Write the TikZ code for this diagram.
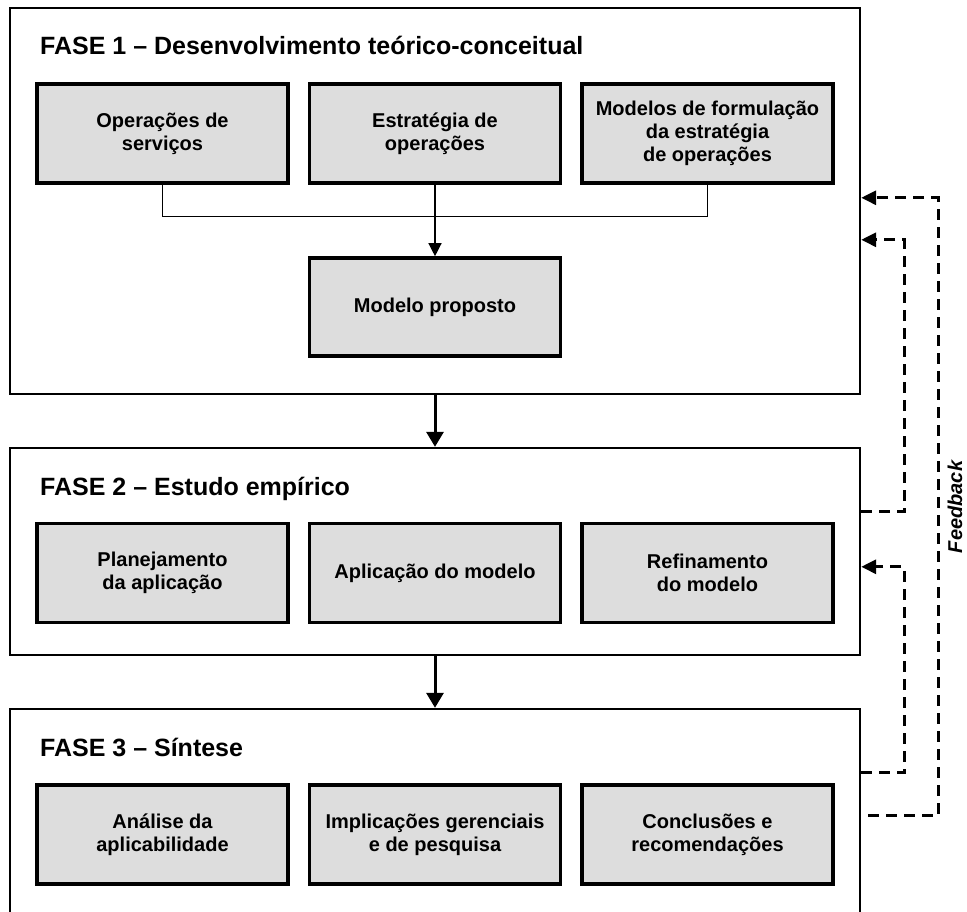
\documentclass[tikz,border=0pt]{standalone}
\usepackage{fontspec}
\setmainfont{Liberation Sans}
\usetikzlibrary{arrows.meta,positioning}

\definecolor{boxgray}{HTML}{DDDDDD}

\tikzset{
  phasebox/.style={draw=black, line width=2.4pt, fill=white, inner sep=0pt},
  stepbox/.style={draw=black, line width=3.6pt, fill=boxgray, inner sep=0pt,
    minimum width=251pt, minimum height=99pt, align=center,
    font=\bfseries\fontsize{20}{23}\selectfont},
  phasetitle/.style={anchor=base west, inner sep=0pt,
    font=\bfseries\fontsize{25}{30}\selectfont},
  joinline/.style={line width=1.3pt},
  joinarrow/.style={line width=1.3pt, -{Triangle[length=13pt,width=13pt]}},
  phasearrow/.style={line width=3pt, -{Triangle[length=15pt,width=17pt]}},
  fbline/.style={line width=3pt, dash pattern=on 11pt off 7pt,
    -{Triangle[length=15pt,width=14pt]}},
}

\begin{document}
\begin{tikzpicture}[x=1pt, y=-1pt]
  \clip (0,0) rectangle (967,912);
  \fill[white] (0,0) rectangle (967,912);

  % three phase frames (the last one runs past the lower edge)
  \node[phasebox, minimum width=850pt, minimum height=386pt] (ph1) at (435,201) {};
  \node[phasebox, minimum width=850pt, minimum height=207pt] (ph2) at (435,551.5) {};
  \node[phasebox, minimum width=850pt, minimum height=230pt] (ph3) at (435,824) {};

  % phase titles
  \node[phasetitle] (t1) at (40,55) {FASE 1 -- Desenvolvimento teórico-conceitual};
  \node[phasetitle] (t2) at (40,495) {FASE 2 -- Estudo empírico};
  \node[phasetitle] (t3) at (40,756) {FASE 3 -- Síntese};

  % phase 1 steps
  \node[stepbox] (a1) at (162.5,133.5) {Operações de\\serviços};
  \node[stepbox] (a2) at (435,133.5) {Estratégia de\\operações};
  \node[stepbox] (a3) at (707.5,133.5) {Modelos de formulação\\da estratégia\\de operações};
  \node[stepbox, minimum height=98pt] (mp) at (435,307) {Modelo proposto};

  % phase 2 steps
  \node[stepbox] (b1) at (162.5,573) {Planejamento\\da aplicação};
  \node[stepbox] (b2) at (435,573) {Aplicação do modelo};
  \node[stepbox] (b3) at (707.5,573) {Refinamento\\do modelo};

  % phase 3 steps
  \node[stepbox] (c1) at (162.5,834.5) {Análise da\\aplicabilidade};
  \node[stepbox] (c2) at (435,834.5) {Implicações gerenciais\\e de pesquisa};
  \node[stepbox] (c3) at (707.5,834.5) {Conclusões e\\recomendações};

  % joining the three bases into the proposed model
  \draw[joinline] (a1.south) -- ++(0,32) -| (a3.south);
  \draw[joinarrow] (a2.south) -- (mp.north);

  % flow between phases
  \draw[phasearrow] (ph1.south) -- (ph2.north);
  \draw[phasearrow] (ph2.south) -- (ph3.north);

  % feedback loops
  \path (ph3.north east) ++(0,108) coordinate (fo1);
  \path (ph1.north east) ++(0,191) coordinate (fo2);
  \path (ph3.north east) ++(0,65)  coordinate (fm1);
  \path (ph2.north east) ++(0,120) coordinate (fm2);
  \path (ph2.north east) ++(0,65)  coordinate (fi1);
  \path (ph1.north east) ++(0,233) coordinate (fi2);

  \draw[fbline, dash phase=11pt] (fo1) -- ++(77,0) |- (fo2);
  \draw[fbline] (fm1) -- ++(43,0) |- (fm2);
  \draw[fbline] (fi1) -- ++(43,0) |- (fi2);

  \node[rotate=90, anchor=base, inner sep=0pt,
        font=\bfseries\itshape\fontsize{20}{24}\selectfont] (fb) at (962,507) {Feedback};
\end{tikzpicture}
\end{document}
